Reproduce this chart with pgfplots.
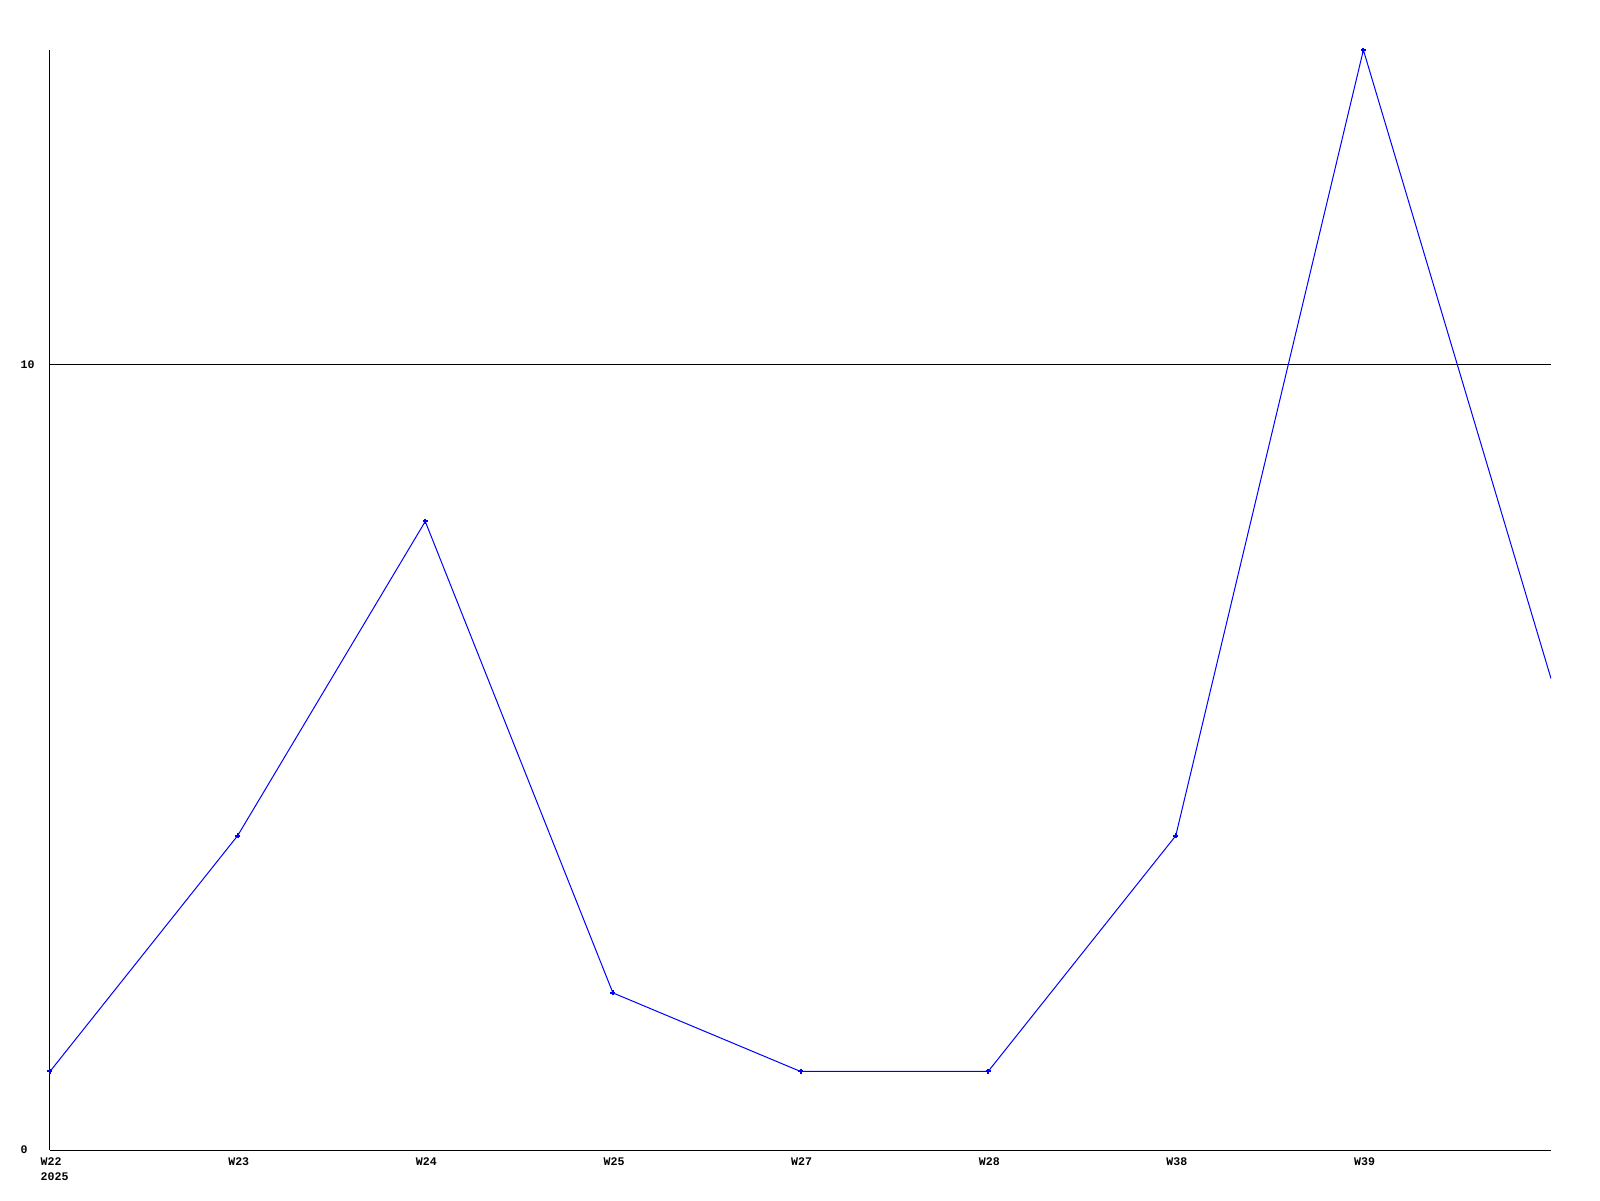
\documentclass[border=0pt]{standalone}
\usepackage{fontspec}
\setmainfont{Liberation Mono}
\usepackage{pgfplots}
\pgfplotsset{compat=1.18}
\begin{document}
\begin{tikzpicture}
\path[use as bounding box] (-0.5cm,-0.5cm) rectangle (15.5cm,11.5cm);
\begin{axis}[
  at={(0,0)}, anchor=south west,
  scale only axis,
  width=15.01cm, height=11cm,
  xmin=0, xmax=8, ymin=0, ymax=14,
  axis x line*=bottom, axis y line*=left,
  axis line style={black, line width=0.1mm, -},
  xtick={0,1,2,3,4,5,6,7},
  xticklabels={{W22\\2025},W23,W24,W25,W27,W28,W38,W39},
  ytick={0,10},
  major tick length=0,
  ymajorgrids,
  grid style={black, line width=0.1mm},
  font=\fontsize{3.3}{4.27}\selectfont\bfseries,
  /pgf/number format/assume math mode=true,
  xticklabel style={anchor=north west, align=left, inner sep=0pt, xshift=-1mm, yshift=-0.75mm},
  yticklabel style={anchor=west, inner sep=0pt, xshift=-3mm},
  clip=true,
]
\addplot[blue, line width=0.1mm, mark=+, mark size=0.25mm, mark indices={1,2,3,4,5,6,7,8},
  mark options={line width=0.2mm}] coordinates {
  (0,1) (1,4) (2,8) (3,2) (4,1) (5,1) (6,4) (7,14) (8,6)
};
\end{axis}
\end{tikzpicture}
\end{document}
